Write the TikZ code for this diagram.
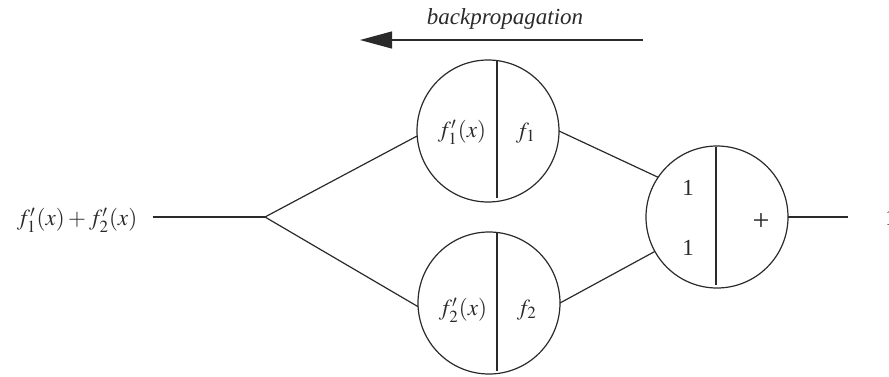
\documentclass[tikz,border=0pt]{standalone}
\usepackage{mathptmx}
\usepackage{fontspec}
\setmainfont{Liberation Serif}
\usepackage{xcolor}
\usepackage{tikz}
\usetikzlibrary{positioning,calc,arrows.meta}
\definecolor{netInk}{HTML}{2A2A2A}
\tikzset{
  unit/.style={
    circle, draw=netInk, line width=0.6pt, minimum size=71pt,
    inner sep=0pt, outer sep=0pt
  },
  wire/.style ={draw=netInk, line width=0.6pt},
  divider/.style={draw=netInk, line width=0.6pt},
  txt/.style ={font=\fontsize{11.5}{13}\selectfont, text=netInk, inner sep=0pt},
}

\begin{document}
\begin{tikzpicture}[
  x=0.5pt,y=-0.5pt,
]
\useasboundingbox (0,0) rectangle (889,376);

% --- units ------------------------------------------------------------------
\node[unit] (topunit) at (488,131) {};
\node[unit] (botunit) at (489,303) {};
\node[unit] (sumunit) at (717,217) {};

% dividers (the two left ones sit a little right of centre)
\draw[divider] ($(topunit.center)+(9,-70)$) -- ($(topunit.center)+(9,67)$);
\draw[divider] ($(botunit.center)+(8,-70)$) -- ($(botunit.center)+(8,68)$);
\draw[divider] ($(sumunit.center)+(-1,-70)$) -- ($(sumunit.center)+(-1,68)$);

% --- texts inside the units -------------------------------------------------
\node[txt] (topderiv) at ($(topunit.center)+(-26,1)$) {$f_1'(x)$};
\node[txt] (topfun)   at ($(topunit.center)+(38,2)$)  {$f_1$};
\node[txt] (botderiv) at ($(botunit.center)+(-26,7)$) {$f_2'(x)$};
\node[txt] (botfun)   at ($(botunit.center)+(38,7)$)  {$f_2$};
\node[txt] (wone)     at ($(sumunit.center)+(-29,-29)$) {1};
\node[txt] (wtwo)     at ($(sumunit.center)+(-29,31)$)  {1};
\node[txt,font=\fontsize{15}{17}\selectfont] (plus) at ($(sumunit.center)+(44,5)$) {+};

% --- input side -------------------------------------------------------------
\node[txt] (inlabel) at (77,220) {$f_1'(x)+f_2'(x)$};
\coordinate (split) at (265,217);
\draw[wire,shorten <=7.5pt] (inlabel.east|-split) -- (split);
\draw[wire] (split) -- (topunit.184);
\draw[wire] (split) -- (botunit.183);

% --- to the sum unit --------------------------------------------------------
\draw[wire] (topunit.east) -- (sumunit.146);
\draw[wire] (botunit.east) -- (sumunit.209);

% --- output side ------------------------------------------------------------
\coordinate (outend) at (848,217);
\draw[wire] (sumunit.east) -- (outend);
\node[txt,anchor=west] (outval) at (885,218) {1};

% --- backpropagation arrow --------------------------------------------------
\coordinate (bpright) at (643,40);
\coordinate (bpleft)  at (360,40);
\draw[wire,-{Triangle[length=16pt,width=8.5pt]}] (bpright) -- (bpleft);
\node[txt,font=\fontsize{11.5}{13}\selectfont\itshape] (bplabel) at (505,19) {backpropagation};

\end{tikzpicture}
\end{document}
